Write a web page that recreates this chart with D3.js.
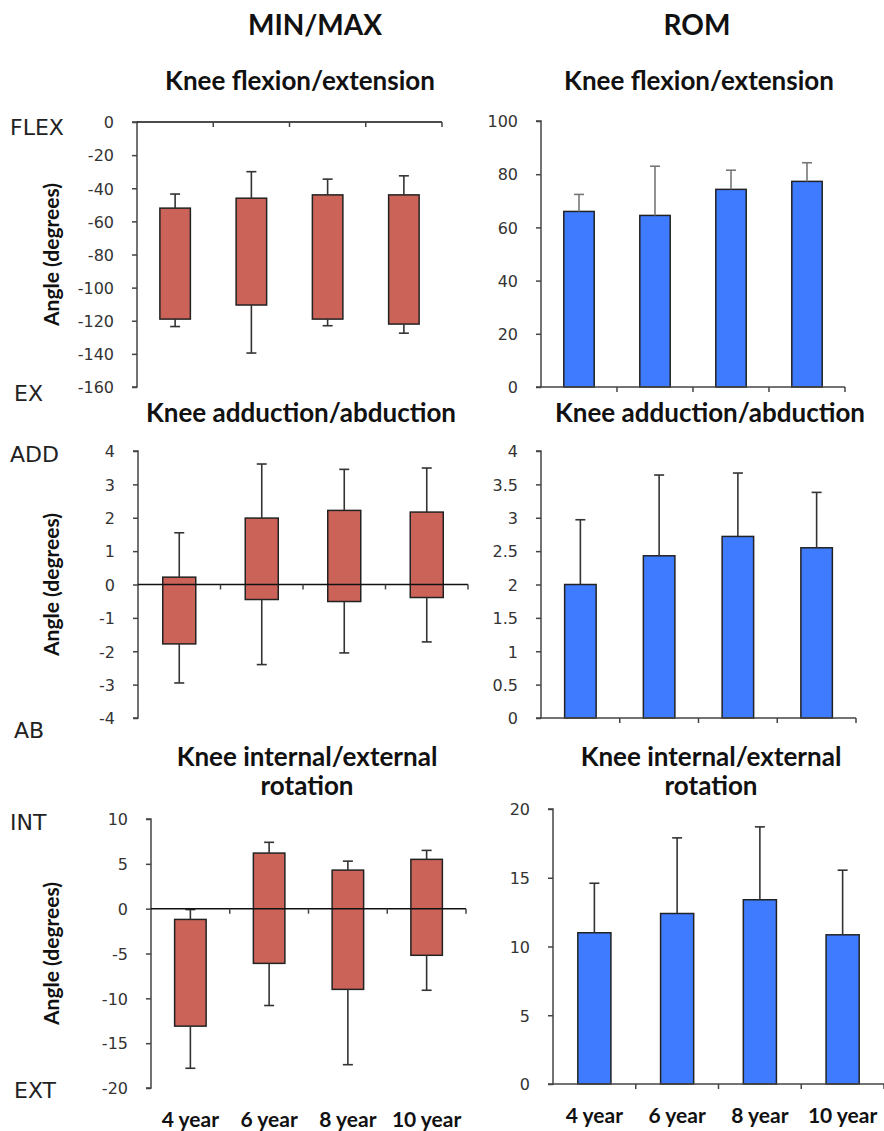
<!DOCTYPE html>
<html>
<head>
<meta charset="utf-8">
<script src="https://cdn.jsdelivr.net/npm/d3@7"></script>
<style>
body{margin:0;background:#fff;}
svg{display:block;}
</style>
</head>
<body>
<svg id="canvas" width="884" height="1131"></svg>
<script>
// age groups
const ages = ["4 year", "6 year", "8 year", "10 year"];

// knee flexion/extension: mean max & min angle with SD, plus ROM
const flexMax = [-52, -46, -44, -44];
const flexMaxSD = [8.5, 16, 9.5, 11.5];
const flexMin = [-119, -110.5, -119, -122];
const flexMinSD = [4.5, 29, 4, 5.5];
const flexROM = [66, 64.5, 74.3, 77.3];
const flexROMSD = [6.4, 18.5, 7.2, 7];

// knee adduction/abduction
const addMax = [0.22, 1.99, 2.22, 2.17];
const addMaxSD = [1.33, 1.62, 1.23, 1.32];
const addMin = [-1.78, -0.45, -0.51, -0.39];
const addMinSD = [1.17, 1.95, 1.54, 1.33];
const addROM = [2.0, 2.43, 2.72, 2.55];
const addROMSD = [0.97, 1.21, 0.95, 0.83];

// knee internal/external rotation
const rotMax = [-1.2, 6.2, 4.3, 5.5];
const rotMaxSD = [1.1, 1.2, 1.0, 1.0];
const rotMin = [-13.1, -6.1, -9.0, -5.2];
const rotMinSD = [4.7, 4.7, 8.4, 3.9];
const rotROM = [11.0, 12.4, 13.4, 10.85];
const rotROMSD = [3.6, 5.5, 5.3, 4.7];

// tick labels
const flexTicks = [0, -20, -40, -60, -80, -100, -120, -140, -160];
const flexROMTicks = [0, 20, 40, 60, 80, 100];
const addTicks = [4, 3, 2, 1, 0, -1, -2, -3, -4];
const addROMTicks = [0, 0.5, 1, 1.5, 2, 2.5, 3, 3.5, 4];
const rotTicks = [10, 5, 0, -5, -10, -15, -20];
const rotROMTicks = [0, 5, 10, 15, 20];

const redFill = "#cc6358", blueFill = "#3f7bff";
const titleFont = "Lato, 'Open Sans', sans-serif";
const tickFont = "'DejaVu Sans', Verdana, sans-serif";

let svg = d3.select("#canvas");

// column headers
svg.append("text").attr("x", 315).attr("y", 35).attr("text-anchor", "middle")
  .style("font", `bold 28px ${titleFont}`).style("fill", "#111").text("MIN/MAX");
svg.append("text").attr("x", 697).attr("y", 35).attr("text-anchor", "middle")
  .style("font", `bold 28px ${titleFont}`).style("fill", "#111").text("ROM");

let panels = [
  {x0: 137, x1: 442, yT: 122, yB: 387, dom: [-160, 0], ticks: flexTicks, hi: flexMax, hiSD: flexMaxSD, lo: flexMin, loSD: flexMinSD,
   title: ["Knee flexion/extension"], tx: 300, ty: 90, side: [["FLEX", 5], ["EX", 6]], axisAt: 0, err: "#333"},
  {x0: 541, x1: 845, yT: 121, yB: 387, dom: [0, 100], ticks: flexROMTicks, hi: flexROM, hiSD: flexROMSD,
   title: ["Knee flexion/extension"], tx: 699, ty: 90, axisAt: 0, err: "#777"},
  {x0: 138, x1: 468, yT: 451, yB: 718, dom: [-4, 4], ticks: addTicks, hi: addMax, hiSD: addMaxSD, lo: addMin, loSD: addMinSD,
   title: ["Knee adduction/abduction"], tx: 301, ty: 422, side: [["ADD", 3], ["AB", 12]], axisAt: 0, err: "#333"},
  {x0: 541, x1: 856, yT: 451, yB: 718, dom: [0, 4], ticks: addROMTicks, hi: addROM, hiSD: addROMSD,
   title: ["Knee adduction/abduction"], tx: 710, ty: 422, axisAt: 0, err: "#333"},
  {x0: 151, x1: 466, yT: 819, yB: 1088, dom: [-20, 10], ticks: rotTicks, hi: rotMax, hiSD: rotMaxSD, lo: rotMin, loSD: rotMinSD,
   title: ["Knee internal/external", "rotation"], tx: 307, ty: 766, side: [["INT", 3], ["EXT", 2]], axisAt: 0, err: "#333", xlab: true},
  {x0: 553, x1: 884, yT: 809, yB: 1084, dom: [0, 20], ticks: rotROMTicks, hi: rotROM, hiSD: rotROMSD,
   title: ["Knee internal/external", "rotation"], tx: 711, ty: 766, axisAt: 0, err: "#333", xlab: true}
];

panels.forEach(p => {
  let g = svg.append("g");
  let x = d3.scaleBand().domain(ages).range([p.x0, p.x1]).paddingInner(0.6).paddingOuter(0.3);
  let y = d3.scaleLinear().domain(p.dom).range([p.yB, p.yT]);
  let isRange = !!p.lo;

  // bars: box from min to max (or 0 to ROM)
  g.selectAll("rect.bar").data(ages).join("rect").attr("class", "bar")
    .attr("x", d => x(d))
    .attr("width", x.bandwidth())
    .attr("y", (d, i) => y(p.hi[i]))
    .attr("height", (d, i) => y(isRange ? p.lo[i] : 0) - y(p.hi[i]))
    .attr("fill", isRange ? redFill : blueFill)
    .attr("stroke", "#222").attr("stroke-width", 1.5);

  // whiskers
  let whisk = [];
  ages.forEach((a, i) => {
    whisk.push({a: a, from: p.hi[i], to: p.hi[i] + p.hiSD[i]});
    if (isRange) whisk.push({a: a, from: p.lo[i], to: p.lo[i] - p.loSD[i]});
  });
  let wg = g.selectAll("g.err").data(whisk).join("g").attr("class", "err")
    .attr("stroke", p.err).attr("stroke-width", 1.6);
  wg.append("line").attr("x1", d => x(d.a) + x.bandwidth() / 2).attr("x2", d => x(d.a) + x.bandwidth() / 2)
    .attr("y1", d => y(d.from)).attr("y2", d => y(d.to));
  wg.append("line").attr("x1", d => x(d.a) + x.bandwidth() / 2 - 5).attr("x2", d => x(d.a) + x.bandwidth() / 2 + 5)
    .attr("y1", d => y(d.to)).attr("y2", d => y(d.to));

  // y axis
  let ya = g.append("g").attr("transform", `translate(${p.x0},0)`)
    .call(d3.axisLeft(y).tickValues(p.ticks).tickSize(5).tickPadding(18).tickFormat(d => String(d)));
  ya.select(".domain").attr("stroke", "#444").attr("stroke-width", 1.5).attr("d", `M-5,${p.yT}H0V${p.yB}H-5`);
  ya.selectAll(".tick line").attr("stroke", "#444").attr("stroke-width", 1.5);
  ya.selectAll(".tick text").style("font", `16px ${tickFont}`).style("fill", "#333").attr("dy", "0.36em");

  // category axis (at value 0), ticks between categories
  let zy = y(p.axisAt);
  g.append("line").attr("x1", p.x0).attr("x2", p.x1).attr("y1", zy).attr("y2", zy)
    .attr("stroke", isRange ? "#111" : "#444").attr("stroke-width", 1.5);
  let bounds = ages.map((a, i) => p.x0 + (i + 1) * x.step());
  g.selectAll("line.ct").data(bounds).join("line").attr("class", "ct")
    .attr("x1", d => d).attr("x2", d => d).attr("y1", zy).attr("y2", zy + 5)
    .attr("stroke", "#444").attr("stroke-width", 1.5);

  // chart title
  p.title.forEach((t, k) => {
    svg.append("text").attr("x", p.tx).attr("y", p.ty + k * 29).attr("text-anchor", "middle")
      .style("font", `bold 26px ${titleFont}`).style("fill", "#111").text(t);
  });

  // y axis title and direction labels
  if (isRange) {
    svg.append("text").attr("transform", `translate(59,${(p.yT + p.yB) / 2}) rotate(-90)`)
      .attr("text-anchor", "middle").style("font", `bold 21px ${titleFont}`).style("fill", "#111")
      .text("Angle (degrees)");
    svg.append("text").attr("x", 10).attr("y", p.yT + p.side[0][1]).attr("dy", "0.36em")
      .style("font", `22px ${tickFont}`).style("fill", "#222").text(p.side[0][0]);
    svg.append("text").attr("x", 14).attr("y", p.yB + p.side[1][1]).attr("dy", "0.36em")
      .style("font", `22px ${tickFont}`).style("fill", "#222").text(p.side[1][0]);
  }

  // age labels below bottom row
  if (p.xlab) {
    g.selectAll("text.age").data(ages).join("text").attr("class", "age")
      .attr("x", d => x(d) + x.bandwidth() / 2).attr("y", p.yB + 39).attr("text-anchor", "middle")
      .style("font", `bold 21px ${titleFont}`).style("fill", "#111").text(d => d);
  }
});
</script>
</body>
</html>
